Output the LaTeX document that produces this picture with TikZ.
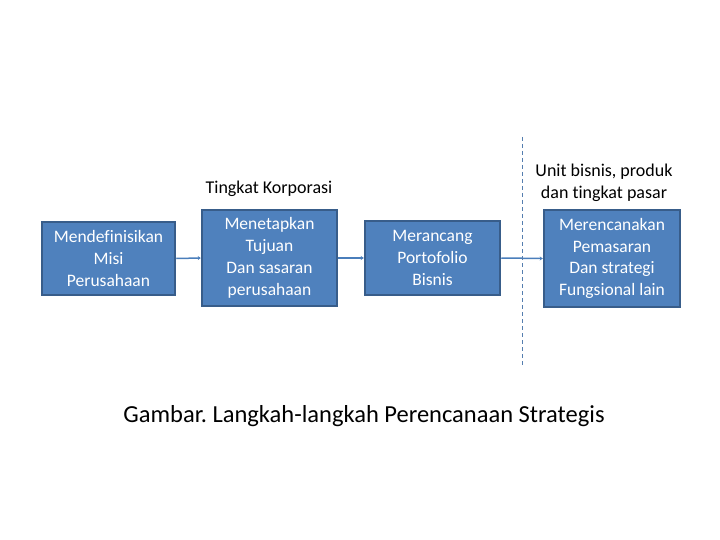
\documentclass[tikz,border=0pt]{standalone}
\usepackage{fontspec}
\setmainfont[Ligatures=NoCommon]{Carlito}
\usetikzlibrary{arrows.meta}
\definecolor{boxfill}{HTML}{4F81BD}
\definecolor{boxline}{HTML}{385D8A}
\definecolor{conn}{HTML}{4A7EBB}
\frenchspacing
\begin{document}
\begin{tikzpicture}[x=1pt,y=-1pt,
  pbox/.style={draw=boxline,line width=2.5pt,fill=boxfill,text=white,align=center,
    font=\fontsize{17.5}{21.8}\selectfont,inner sep=0pt},
  conline/.style={draw=conn,line width=1.5pt,-{Stealth[length=3pt,width=4pt]}},
  lbl/.style={align=center,font=\fontsize{18}{22}\selectfont}]
\useasboundingbox (0,0) rectangle (720,540);
\node[pbox,minimum width=133pt,minimum height=73pt] (b1) at (108.5,258.5) {Mendefinisikan\\Misi\\Perusahaan};
\node[pbox,minimum width=135pt,minimum height=96pt] (b2) at (269.5,258) {Menetapkan\\Tujuan\\Dan sasaran\\perusahaan};
\node[pbox,minimum width=135pt,minimum height=74pt] (b3) at (432.5,258) {Merancang\\Portofolio\\Bisnis};
\node[pbox,minimum width=136pt,minimum height=97pt] (b4) at (612,258.5) {Merencanakan\\Pemasaran\\Dan strategi\\Fungsional lain};
\draw[conline] (b1.east) -- (b2.west);
\draw[conline] (b2.east) -- (b3.west);
\draw[conline] (b3.east) -- (b4.west);
\coordinate (dtop) at (522,137);
\coordinate (dbot) at (522,366);
\draw[conn!80!gray,line width=1pt,dash pattern=on 4pt off 3pt] (dtop) -- (dbot);
\node[lbl] (t1) at (269,189) {Tingkat Korporasi};
\node[lbl] (t2) at (604,183) {Unit bisnis, produk\\dan tingkat pasar};
\node[font=\fontsize{24.5}{28}\selectfont] (cap) at (364,416) {Gambar. Langkah-langkah Perencanaan Strategis};
\end{tikzpicture}
\end{document}
